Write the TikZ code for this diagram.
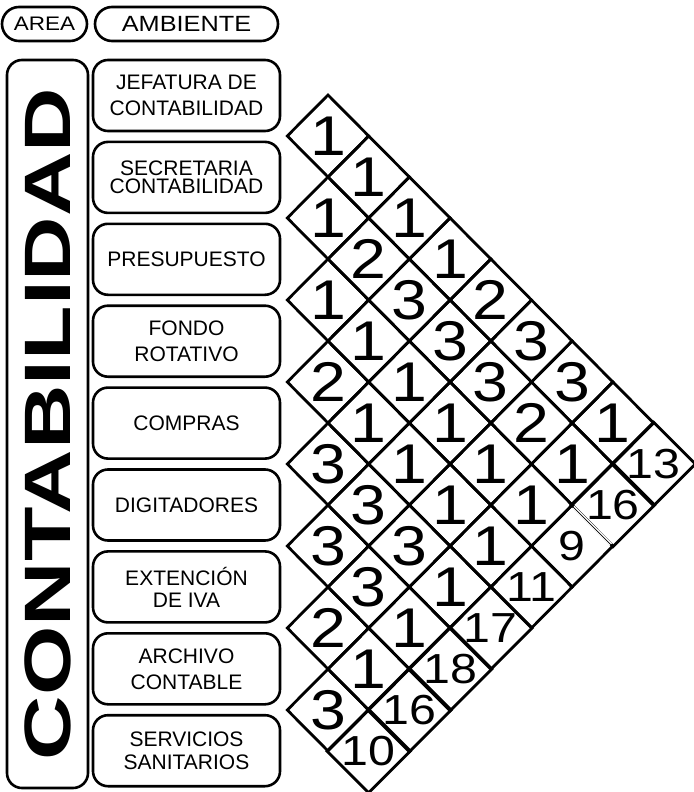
\documentclass[tikz,border=0pt]{standalone}
\usepackage{fontspec}
\setmainfont{Liberation Sans}
\newfontfamily\headfont{Liberation Sans}[FakeStretch=1.15]
\newfontfamily\areafont{Liberation Sans}[FakeStretch=1.36]
\newfontfamily\digitfont{Liberation Sans}[FakeStretch=1.15]
\usepackage{tikz}
\usetikzlibrary{shapes.geometric}

\begin{document}
\begin{tikzpicture}[
    x=0.5pt, y=-0.5pt,
    pill/.style={rectangle, rounded corners=8.5pt, draw, line width=1.3pt, minimum height=17pt, inner sep=0pt, font=\headfont\fontsize{11}{12}\selectfont},
    room/.style={rectangle, rounded corners=7.5pt, draw, line width=1.3pt, minimum width=93.5pt, minimum height=35.5pt, inner sep=0pt, align=center, font=\fontsize{10.5}{13}\selectfont},
    cell/.style={diamond, draw, line width=1.4pt, minimum width=40.7pt, minimum height=41pt, inner sep=0pt, outer sep=0pt, font=\digitfont\fontsize{28}{28}\selectfont},
    lastcell/.style={cell, font=\digitfont\fontsize{21}{21}\selectfont}
]
    \useasboundingbox (0, 0) rectangle (694, 792);

    % Header
    \node[pill, minimum width=42.5pt, font=\headfont\fontsize{9.8}{12}\selectfont] (area) at (44.5, 24) {AREA};
    \node[pill, minimum width=91.5pt] (ambiente) at (186.5, 24) {AMBIENTE};

    % Area column
    \node[draw, rounded corners=7.5pt, line width=1.3pt, rotate=90, minimum width=364pt, minimum height=40.5pt, inner sep=0pt,
        font=\areafont\bfseries\fontsize{32.8}{36}\selectfont] (contabilidad) at (47.5, 424) {CONTABILIDAD};

    % Rooms
    \node[room] (jefatura) at (186.5, 95.5) {JEFATURA DE\\CONTABILIDAD};
    \node[room] (secretaria) at (186.5, 177.4) {SECRETARIA\\[-4pt]CONTABILIDAD};
    \node[room] (presupuesto) at (186.5, 259.3) {PRESUPUESTO};
    \node[room] (fondo) at (186.5, 341.2) {FONDO\\ROTATIVO};
    \node[room] (compras) at (186.5, 423.1) {COMPRAS};
    \node[room] (digitadores) at (186.5, 505) {DIGITADORES};
    \node[room] (extencion) at (186.5, 586.9) {EXTENCIÓN\\[-2pt]DE IVA};
    \node[room] (archivo) at (186.5, 668.8) {ARCHIVO\\CONTABLE};
    \node[room] (servicios) at (186.5, 750.7) {SERVICIOS\\[-1.5pt]SANITARIOS};

    % Relation matrix
    \foreach \col [count=\k from 0] in {{1,1,1,2,3,3,2,3}, {1,2,1,1,3,3,1}, {1,3,1,1,3,1}, {1,3,1,1,1}, {2,3,1,1}, {3,2,1}, {3,1}, {1}}
        \foreach \v [count=\m from 0] in \col
            \node[cell] (cell-\k-\m) at ({328+40.7*\k}, {136+41*\k+82*\m}) {\v};
    \foreach \v/\m [count=\k] in {10/7, 16/6, 18/5, 17/4, 11/3, 9/2, 16/1, 13/0}
        \node[lastcell] (cell-\k-\m) at ({328+40.7*\k}, {792-41*\k}) {\v};

    % thin edge
    \draw[white, line width=1.8pt, shorten <=1.5pt, shorten >=1.5pt] (cell-7-1.west) -- (cell-7-1.south);
    \draw[thin] (cell-7-1.west) -- (cell-7-1.south);
\end{tikzpicture}
\end{document}
